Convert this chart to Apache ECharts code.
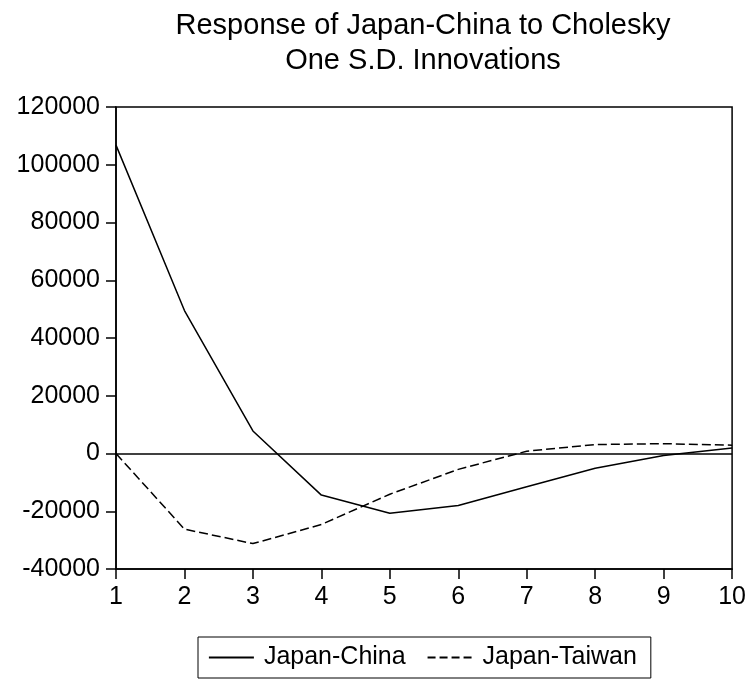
<!DOCTYPE html>
<html>
<head>
<meta charset="utf-8">
<script src="https://cdn.jsdelivr.net/npm/echarts@6/dist/echarts.min.js"></script>
<style>html,body{margin:0;padding:0;background:#fff;}#chart{width:749px;height:680px;}</style>
</head>
<body>
<div id="chart"></div>
<script>
var periods = ['1','2','3','4','5','6','7','8','9','10'];
var japanChina = [106800, 49500, 7800, -14400, -20700, -18000, -11500, -5100, -700, 1900];
var japanTaiwan = [0, -26200, -31200, -24600, -14100, -5500, 800, 3100, 3400, 2900];
var yTicks = [-40000, -20000, 0, 20000, 40000, 60000, 80000, 100000, 120000];
var titleLines = ['Response of Japan-China to Cholesky', 'One S.D. Innovations'];
var seriesNames = ['Japan-China', 'Japan-Taiwan'];

var FONT = '"Liberation Sans", Arial, sans-serif';
var chart = echarts.init(document.getElementById('chart'), null, {renderer: 'canvas'});
chart.setOption({
  animation: false,
  backgroundColor: '#fff',
  title: {
    text: titleLines.join('\n'),
    left: 423,
    top: 8,
    padding: 0,
    textAlign: 'center',
    textStyle: {fontFamily: FONT, fontSize: 29, fontWeight: 'normal', color: '#000', lineHeight: 35}
  },
  legend: {
    data: [
      {name: seriesNames[0], lineStyle: {type: 'solid', width: 1.8}},
      {name: seriesNames[1], lineStyle: {type: [8, 4], width: 1.8}}
    ],
    left: 198,
    top: 637,
    orient: 'horizontal',
    borderColor: '#000',
    borderWidth: 1,
    padding: [8, 14, 8, 10],
    itemWidth: 45,
    itemHeight: 14,
    itemGap: 21,
    itemStyle: {opacity: 0},
    textStyle: {fontFamily: FONT, fontSize: 25, color: '#000', padding: [0, 0, 0, 5]}
  },
  grid: {
    left: 116, right: 16, top: 107, bottom: 111,
    show: true, borderColor: '#000', borderWidth: 1.5, backgroundColor: '#fff'
  },
  xAxis: {
    type: 'category',
    data: periods,
    boundaryGap: false,
    axisLine: {onZero: false, lineStyle: {color: '#000', width: 1.5}},
    axisTick: {show: true, inside: false, length: 10, alignWithLabel: true, interval: 0, lineStyle: {color: '#000', width: 1.5}},
    axisLabel: {interval: 0, margin: 16, fontFamily: FONT, fontSize: 25, color: '#000'},
    splitLine: {show: false}
  },
  yAxis: {
    type: 'value',
    min: yTicks[0],
    max: yTicks[yTicks.length - 1],
    interval: yTicks[1] - yTicks[0],
    axisLine: {show: true, lineStyle: {color: '#000', width: 1.5}},
    axisTick: {show: true, inside: false, length: 10, lineStyle: {color: '#000', width: 1.5}},
    axisLabel: {margin: 16, fontFamily: FONT, fontSize: 25, color: '#000', formatter: function (v) { return String(v); }},
    splitLine: {show: false}
  },
  series: [
    {
      name: seriesNames[0], type: 'line', data: japanChina,
      symbol: 'none', color: '#000',
      lineStyle: {color: '#000', width: 1.5, type: 'solid'},
      markLine: {
        silent: true, symbol: 'none', label: {show: false},
        lineStyle: {color: '#000', width: 1.5, type: 'solid'},
        data: [{yAxis: 0}]
      }
    },
    {
      name: seriesNames[1], type: 'line', data: japanTaiwan,
      symbol: 'none', color: '#000',
      lineStyle: {color: '#000', width: 1.5, type: [9, 4]}
    }
  ]
});
</script>
</body>
</html>
